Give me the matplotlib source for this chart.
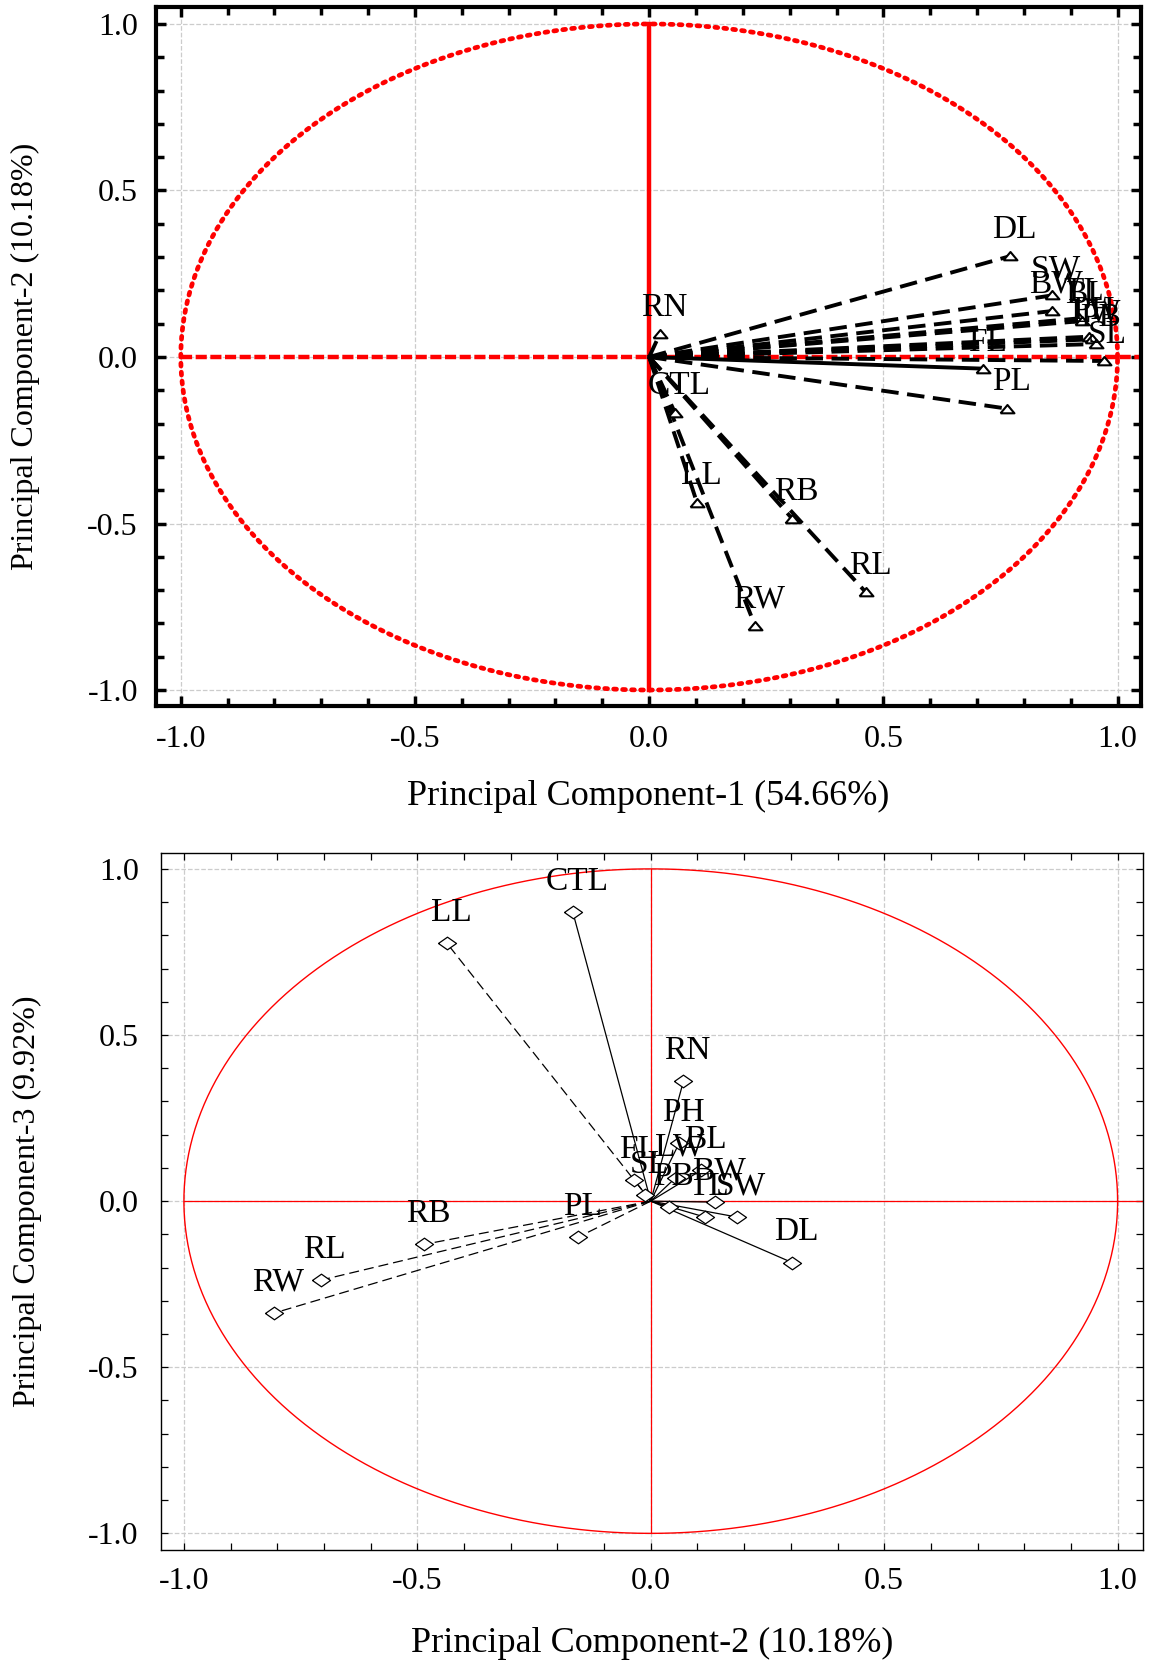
import numpy as np
import matplotlib
matplotlib.use('Agg')
import matplotlib.pyplot as plt
from matplotlib import rcParams
from matplotlib.ticker import MultipleLocator, FormatStrFormatter

params = {
    'font.family': 'Liberation Serif',
    'font.size': 22,
    'axes.unicode_minus': False,
}
rcParams.update(params)

# loadings
variables = ["RN", "CTL", "LL", "RB", "RL", "RW", "PL", "FL", "DL",
             "SW", "BW", "TL", "BL", "PH", "LW", "PB", "SL"]
pc1 = [0.023, 0.055, 0.102, 0.305, 0.463, 0.226, 0.764, 0.713, 0.771,
       0.86, 0.86, 0.918, 0.925, 0.94, 0.945, 0.955, 0.97]
pc2 = [0.070, -0.167, -0.437, -0.485, -0.707, -0.807, -0.155, -0.035, 0.303,
       0.185, 0.138, 0.116, 0.108, 0.061, 0.053, 0.039, -0.012]
pc3 = [0.361, 0.870, 0.777, -0.130, -0.238, -0.337, -0.108, 0.063, -0.185,
       -0.048, -0.003, -0.048, 0.093, 0.175, 0.070, -0.018, 0.018]

var_pc1 = "54.66%"
var_pc2 = "10.18%"
var_pc3 = "9.92%"

solid_top = ["FL"]
dashed_bottom = ["LL", "RB", "RL", "RW", "PL"]

tri = [(-1, -0.55), (1, -0.55), (0, 0.65), (-1, -0.55)]
dia = [(-1, 0), (0, 0.7), (1, 0), (0, -0.7), (-1, 0)]

theta = np.linspace(0, 2 * np.pi, 500)

fig = plt.figure(figsize=(11.51, 16.62), dpi=100)
ax1 = fig.add_axes([0.1355, 0.5752, 0.8558, 0.4206])
ax2 = fig.add_axes([0.1399, 0.0674, 0.8530, 0.4194])


def style_axes(ax, spine_w, tick_w, ypad, xpad):
    for sp in ax.spines.values():
        sp.set_linewidth(spine_w)
    ax.xaxis.set_major_locator(MultipleLocator(0.5))
    ax.yaxis.set_major_locator(MultipleLocator(0.5))
    ax.xaxis.set_minor_locator(MultipleLocator(0.1))
    ax.yaxis.set_minor_locator(MultipleLocator(0.1))
    ax.tick_params(which='both', direction='in', top=True, right=True, width=tick_w)
    ax.tick_params(axis='x', pad=xpad, labelsize=23)
    ax.tick_params(axis='y', pad=ypad, labelsize=23)
    ax.xaxis.set_major_formatter(FormatStrFormatter('%.1f'))
    ax.yaxis.set_major_formatter(FormatStrFormatter('%.1f'))
    ax.grid(True, which='major', linestyle='--', color='#cccccc', lw=0.9)
    ax.set_axisbelow(True)


# ---------- top: PC1 vs PC2 ----------
ax1.set_xlim(-1.053, 1.05)
ax1.set_ylim(-1.048, 1.051)
ax1.plot(np.cos(theta), np.sin(theta), color='red', lw=3.4,
         linestyle=(0, (0.6, 1.3)), dash_capstyle='round', zorder=2)
ax1.plot([0, 0], [-1, 1], color='red', lw=3.2, zorder=2)
ax1.plot([-1, 1.06], [0, 0], color='red', lw=3.2, linestyle=(0, (2.5, 0.8)), zorder=2)
for name, x, y in zip(variables, pc1, pc2):
    ls = '-' if name in solid_top else (0, (4.5, 2.2))
    ax1.plot([0, x], [0, y], color='black', lw=2.8, linestyle=ls, zorder=3)
for name, x, y in zip(variables, pc1, pc2):
    ax1.plot(x, y, marker=tri, ms=10, mfc='white', mec='black', mew=1.5,
             linestyle='none', zorder=4)
    ax1.annotate(name, (x, y), xytext=(3, 19), textcoords='offset points',
                 ha='center', va='center', fontsize=24, zorder=5)

style_axes(ax1, 3, 2.5, 13, 14)
ax1.tick_params(which='major', length=7)
ax1.tick_params(which='minor', length=6)
ax1.set_xlabel('Principal Component-1 (%s)' % var_pc1, fontsize=26)
ax1.set_ylabel('Principal Component-2 (%s)' % var_pc2, fontsize=23)
ax1.xaxis.set_label_coords(0.5, -0.106)
ax1.yaxis.set_label_coords(-0.118, 0.5)

# ---------- bottom: PC2 vs PC3 ----------
ax2.set_xlim(-1.049, 1.054)
ax2.set_ylim(-1.05, 1.048)
ax2.plot(np.cos(theta), np.sin(theta), color='red', lw=1.0, zorder=2)
ax2.plot([0, 0], [-1, 1], color='red', lw=0.9, zorder=2)
ax2.plot([-1, 1.06], [0, 0], color='red', lw=0.9, zorder=2)
for name, x, y in zip(variables, pc2, pc3):
    ls = (0, (8, 4)) if name in dashed_bottom else '-'
    ax2.plot([0, x], [0, y], color='black', lw=0.9, linestyle=ls, zorder=3)
for name, x, y in zip(variables, pc2, pc3):
    ax2.plot(x, y, marker=dia, ms=13, mfc='white', mec='black', mew=0.9,
             linestyle='none', zorder=4)
    ax2.annotate(name, (x, y), xytext=(3, 22), textcoords='offset points',
                 ha='center', va='center', fontsize=24, zorder=5)

style_axes(ax2, 1.0, 0.9, 16, 12)
ax2.tick_params(which='both', length=5)
ax2.set_xlabel('Principal Component-2 (%s)' % var_pc2, fontsize=26)
ax2.set_ylabel('Principal Component-3 (%s)' % var_pc3, fontsize=23)
ax2.xaxis.set_label_coords(0.5, -0.110)
ax2.yaxis.set_label_coords(-0.121, 0.5)

fig.savefig('out.png', dpi=100)
